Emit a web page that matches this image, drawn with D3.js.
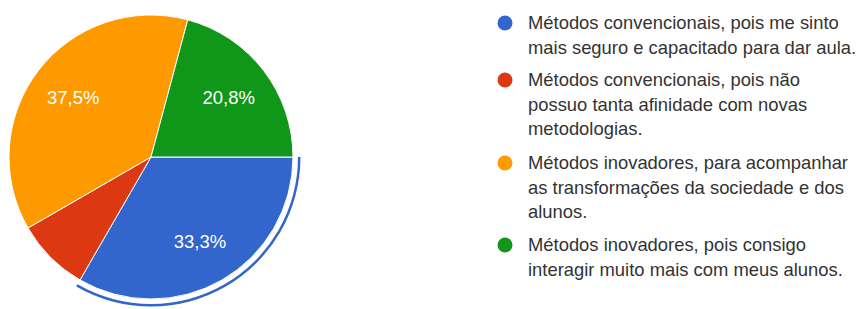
<!DOCTYPE html>
<html>
<head>
<meta charset="utf-8">
<script src="https://cdn.jsdelivr.net/npm/d3@7"></script>
<style>
  body { margin: 0; background: #fff; }
  text { font-family: Arial, "Liberation Sans", sans-serif; }
</style>
</head>
<body>
<div id="chart"></div>
<script>
const categories = [
  ["Métodos convencionais, pois me sinto", "mais seguro e capacitado para dar aula."],
  ["Métodos convencionais, pois não", "possuo tanta afinidade com novas", "metodologias."],
  ["Métodos inovadores, para acompanhar", "as transformações da sociedade e dos", "alunos."],
  ["Métodos inovadores, pois consigo", "interagir muito mais com meus alunos."]
]
const counts = [8, 2, 9, 5]
const percentLabels = ["33,3%", "", "37,5%", "20,8%"]
const colors = ["#3366cc", "#dc3912", "#ff9900", "#109618"]

const width = 862
const height = 309
const cx = 151, cy = 157, r = 142

const svg = d3.select('#chart').append('svg')
  .attr('width', width)
  .attr('height', height)

const pie = d3.pie()
  .sort(null)
  .value(d => d)
  .startAngle(Math.PI / 2)
  .endAngle(Math.PI / 2 + 2 * Math.PI)

const arcs = pie(counts)
const arc = d3.arc().innerRadius(0).outerRadius(r)
const labelArc = d3.arc().innerRadius(r * 0.69).outerRadius(r * 0.69)

const g = svg.append('g')
  .attr('transform', `translate(${cx},${cy})`)

g.selectAll('path.slice')
  .data(arcs)
  .join('path')
  .attr('class', 'slice')
  .attr('d', arc)
  .attr('fill', (d, i) => colors[i])
  .attr('stroke', '#fff')
  .attr('stroke-width', 1)

// highlight ring round the first slice
const ring = d3.arc().innerRadius(r + 5).outerRadius(r + 7.5)
g.append('path')
  .attr('d', ring(arcs[0]))
  .attr('fill', colors[0])

g.selectAll('text.pct')
  .data(arcs)
  .join('text')
  .attr('class', 'pct')
  .attr('transform', d => `translate(${labelArc.centroid(d)})`)
  .attr('text-anchor', 'middle')
  .attr('dy', '0.35em')
  .attr('fill', '#fff')
  .style('font-size', '18.5px')
  .text((d, i) => percentLabels[i])

// legend
const legendX = 505
const lineH = 24.5
const legendStarts = [23, 80, 163, 245]

const legend = svg.append('g')
  .selectAll('g')
  .data(categories)
  .join('g')
  .attr('transform', (d, i) => `translate(${legendX},${legendStarts[i]})`)

legend.append('circle')
  .attr('r', 7.5)
  .attr('fill', (d, i) => colors[i])

legend.append('text')
  .attr('fill', '#333')
  .style('font-size', '18.4px')
  .selectAll('tspan')
  .data(d => d)
  .join('tspan')
  .attr('x', 23)
  .attr('y', (d, j) => j * lineH)
  .attr('dy', '0.35em')
  .text(d => d)
</script>
</body>
</html>
